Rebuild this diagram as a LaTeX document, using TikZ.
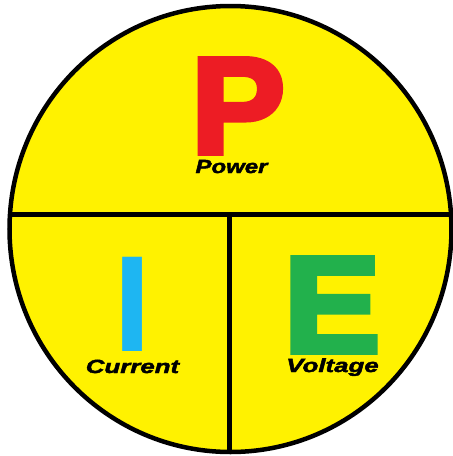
\documentclass[tikz,border=0pt]{standalone}
\usepackage{fontspec}
\setmainfont{Liberation Sans}
\newfontfamily\heavyfont[BoldFeatures={FakeBold=4}]{Liberation Sans}
\newfontfamily\labelfont[BoldItalicFeatures={FakeBold=2}]{Liberation Sans}
\definecolor{pieyellow}{HTML}{FFF200}
\definecolor{pred}{HTML}{ED1C24}
\definecolor{iblue}{HTML}{1EB6F2}
\definecolor{egreen}{HTML}{22B14C}
\begin{document}
\begin{tikzpicture}[x=1pt,y=-1pt,
  bigletter/.style={inner sep=0pt, anchor=base, font=\fontsize{137}{137}\selectfont\bfseries},
  heavyletter/.style={bigletter, font=\heavyfont\fontsize{137}{137}\selectfont\bfseries},
  lbl/.style={inner sep=0pt, anchor=base, font=\labelfont\fontsize{19}{20}\selectfont\bfseries\itshape, text=black},
  pieline/.style={line width=4.5pt, draw=black}]
\useasboundingbox (0,0) rectangle (453,456);
\fill[white] (0,0) rectangle (453,456);
\coordinate (c) at (230.5,229);
\fill[pieyellow] (c) ellipse [x radius=221pt, y radius=223pt];
\begin{scope}
  \clip (c) ellipse [x radius=221pt, y radius=223pt];
  \coordinate (hl) at (0,214.5);
  \coordinate (hr) at (453,214.5);
  \coordinate (vt) at (229.5,214.5);
  \coordinate (vb) at (229.5,456);
  \draw[pieline] (hl) -- (hr);
  \draw[pieline] (vt) -- (vb);
\end{scope}
\draw[pieline] (c) ellipse [x radius=221pt, y radius=223pt];
\node[heavyletter, text=pred] (P) at (238,153) {\scalebox{1.03}[1]{P}};
\node[bigletter, text=iblue] (I) at (132.5,351) {I};
\node[heavyletter, text=egreen] (E) at (332,352) {\scalebox{1.06}[1]{E}};
\node[lbl] (power) at (231.5,173) {\scalebox{1.26}[1]{Power}};
\node[lbl] (current) at (132.5,373) {\scalebox{1.36}[1]{Current}};
\node[lbl] (voltage) at (332.5,372) {\scalebox{1.36}[1]{Voltage}};
\end{tikzpicture}
\end{document}
